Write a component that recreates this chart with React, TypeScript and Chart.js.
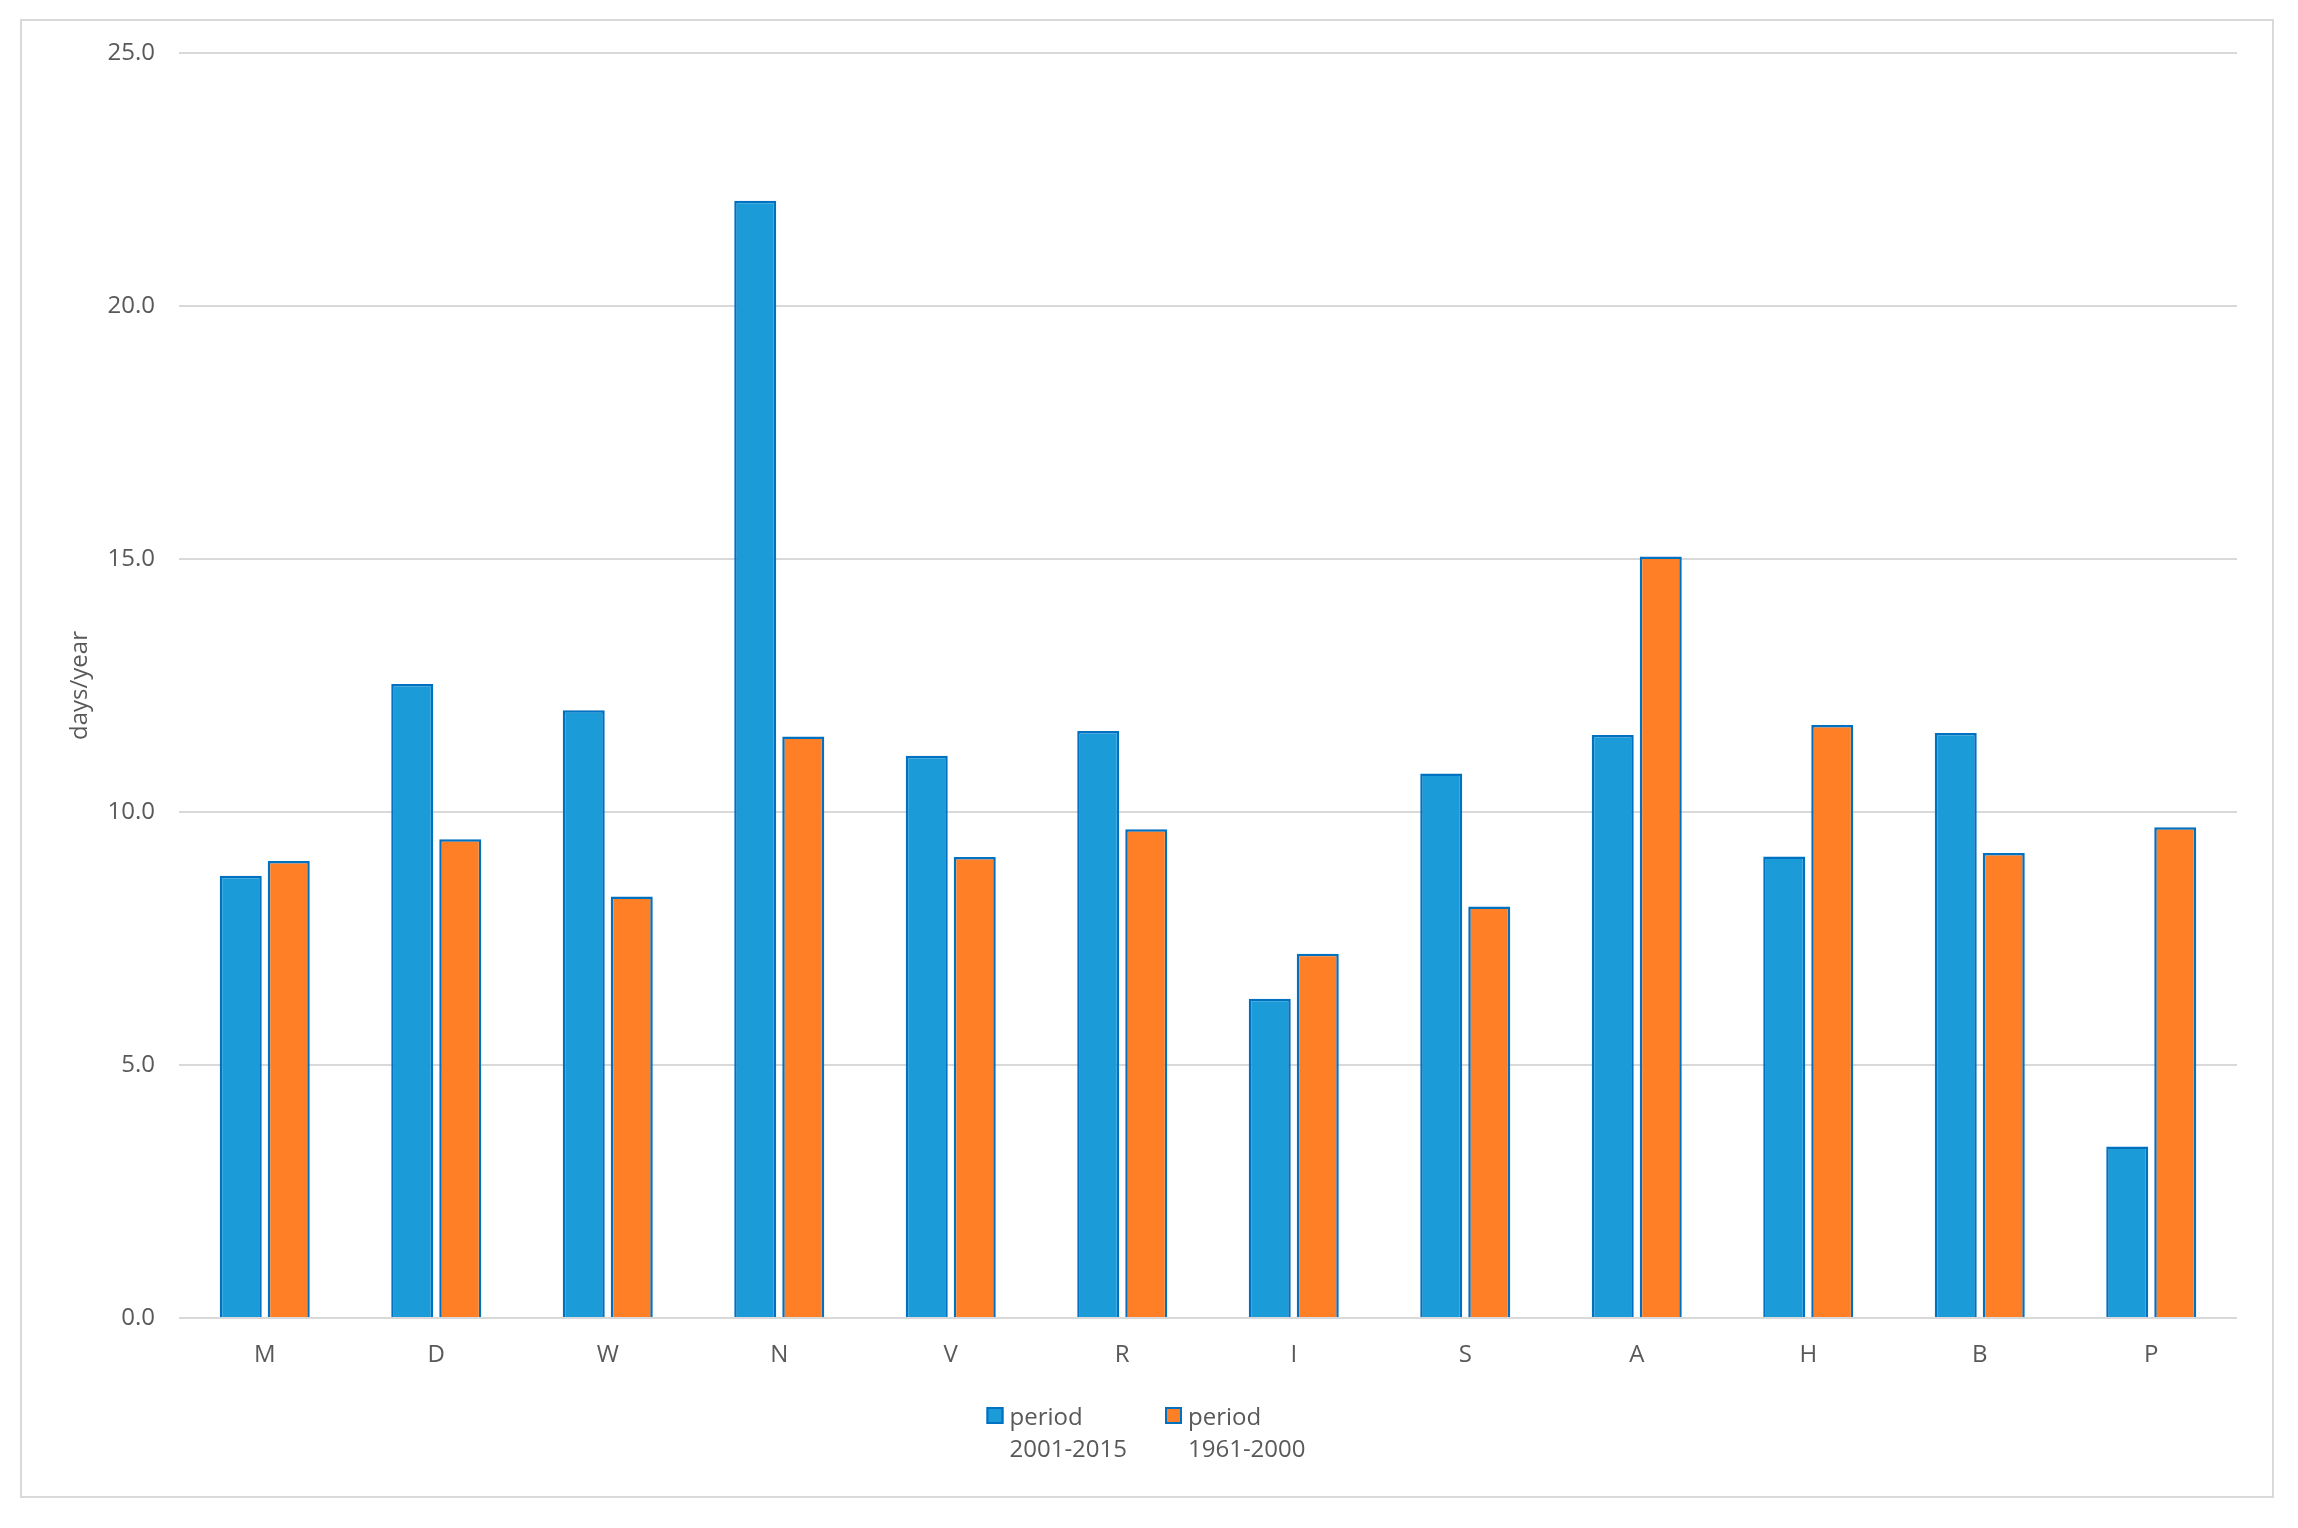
import React, { useEffect, useRef } from "react";
import { Chart, registerables } from "chart.js";

Chart.register(...registerables);

const categories = ["M", "D", "W", "N", "V", "R", "I", "S", "A", "H", "B", "P"];
const period2001_2015 = [8.74, 12.53, 12.01, 22.08, 11.11, 11.6, 6.31, 10.76, 11.52, 9.12, 11.56, 3.39];
const period1961_2000 = [9.03, 9.46, 8.33, 11.49, 9.11, 9.66, 7.2, 8.13, 15.05, 11.72, 9.19, 9.7];
const seriesLabels = [["period", "2001-2015"], ["period", "1961-2000"]];
const yTicksMin = 0;
const yTicksMax = 25;
const yStep = 5;
const yTitle = "days/year";

const FONT = "'Open Sans', 'Liberation Sans', sans-serif";
const TEXT = "#595959";
const BORDER = "#0070C0";

const legendPlugin = {
  id: "multiLineLegend",
  afterDraw(chart: any) {
    const ctx = chart.ctx;
    const area = chart.chartArea;
    const datasets = chart.data.datasets;
    const box = 17;
    const gap = 6;
    const itemGap = 38;
    const lineH = 32;
    ctx.save();
    ctx.font = `24px ${FONT}`;
    const widths = datasets.map((ds: any) => {
      const lines: string[] = Array.isArray(ds.label) ? ds.label : [ds.label];
      return box + gap + Math.max(...lines.map((l) => ctx.measureText(l).width));
    });
    const total = widths.reduce((a: number, b: number) => a + b, 0) + itemGap * (widths.length - 1);
    const center = (area.right + 55) / 2;
    let x = center - total / 2;
    const boxTop = area.bottom + 89;
    const firstLine = area.bottom + 100;
    datasets.forEach((ds: any, i: number) => {
      ctx.fillStyle = ds.backgroundColor;
      ctx.fillRect(x, boxTop, box, box);
      ctx.strokeStyle = BORDER;
      ctx.lineWidth = 2;
      ctx.strokeRect(x + 1, boxTop + 1, box - 2, box - 2);
      ctx.fillStyle = TEXT;
      ctx.textAlign = "left";
      ctx.textBaseline = "middle";
      const lines: string[] = Array.isArray(ds.label) ? ds.label : [ds.label];
      lines.forEach((l, j) => ctx.fillText(l, x + box + gap, firstLine + j * lineH));
      x += widths[i] + itemGap;
    });
    ctx.restore();
  },
};

export default function App() {
  const ref = useRef<HTMLCanvasElement | null>(null);
  useEffect(() => {
    if (!ref.current) return;
    const chart = new Chart(ref.current, {
      type: "bar",
      data: {
        labels: categories,
        datasets: [
          {
            label: seriesLabels[0] as any,
            data: period2001_2015,
            backgroundColor: "#1B9BD7",
            borderColor: BORDER,
            borderWidth: 2.5,
            borderSkipped: "bottom",
          },
          {
            label: seriesLabels[1] as any,
            data: period1961_2000,
            backgroundColor: "#FF7F27",
            borderColor: BORDER,
            borderWidth: 2.5,
            borderSkipped: "bottom",
          },
        ],
      },
      options: {
        animation: false,
        responsive: false,
        maintainAspectRatio: false,
        devicePixelRatio: 1,
        layout: { padding: { left: 55, right: 61, top: 53, bottom: 157 } },
        datasets: { bar: { categoryPercentage: 0.56, barPercentage: 0.875 } },
        scales: {
          x: {
            grid: { display: false, drawTicks: false },
            border: { display: false },
            ticks: { color: TEXT, font: { family: FONT, size: 24 }, padding: 23 },
            afterFit: (s: any) => {
              s.height = 53;
            },
          },
          y: {
            min: yTicksMin,
            max: yTicksMax,
            grid: { color: "#d9d9d9", lineWidth: 2, drawTicks: false },
            border: { display: false },
            ticks: {
              stepSize: yStep,
              color: TEXT,
              font: { family: FONT, size: 24 },
              padding: 24,
              callback: (v: any) => Number(v).toFixed(1),
            },
            title: {
              display: true,
              text: yTitle,
              color: TEXT,
              font: { family: FONT, size: 24 },
              padding: { top: 11, bottom: 0 },
            },
            afterFit: (s: any) => {
              s.width = 124;
            },
          },
        },
        plugins: {
          legend: { display: false },
          tooltip: { enabled: false },
        },
      },
      plugins: [legendPlugin],
    });
    return () => chart.destroy();
  }, []);
  return (
    <div style={{ position: "absolute", left: 0, top: 0, width: 2298, height: 1528, background: "#fff" }}>
      <canvas ref={ref} width={2298} height={1528} style={{ display: "block", width: 2298, height: 1528 }} />
      <div
        style={{
          position: "absolute",
          left: 20,
          top: 19,
          width: 2250,
          height: 1475,
          border: "2px solid #d9d9d9",
          pointerEvents: "none",
        }}
      />
    </div>
  );
}
